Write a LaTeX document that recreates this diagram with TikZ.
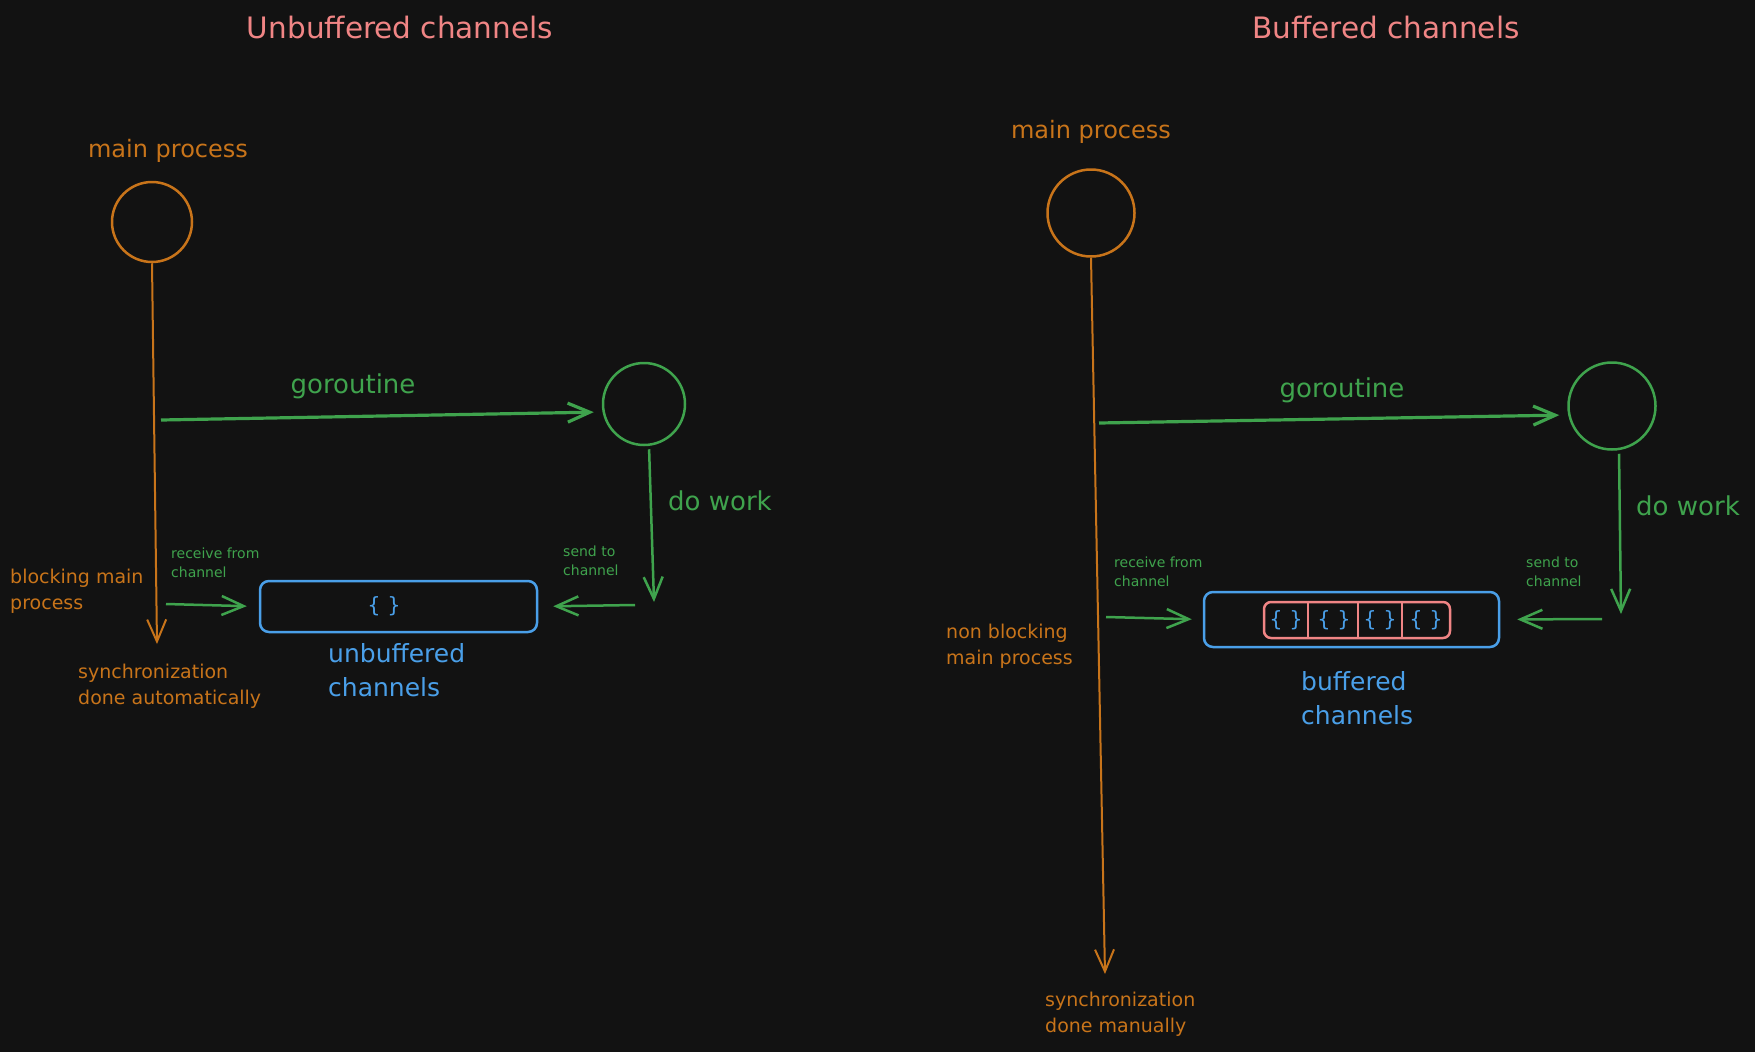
\documentclass[tikz,border=0pt]{standalone}
\usepackage{fontspec}
\setmainfont{DejaVu Sans}
\usetikzlibrary{arrows.meta}
\definecolor{bgdark}{HTML}{121212}
\definecolor{procorange}{HTML}{C8741A}
\definecolor{gogreen}{HTML}{3FA34D}
\definecolor{chanblue}{HTML}{4A9FE8}
\definecolor{titlered}{HTML}{F08585}
\begin{document}
\begin{tikzpicture}[x=1pt,y=-1pt,
  barb/.style={-{Straight Barb[length=22pt,width=19pt]}},
  proc/.style={circle,draw=procorange,line width=2.5pt,inner sep=0pt},
  gor/.style={circle,draw=gogreen,line width=2.5pt,inner sep=0pt},
  mainline/.style={procorange,line width=2pt,barb},
  goline/.style={gogreen,line width=3.2pt,barb},
  chline/.style={gogreen,line width=2.5pt,barb},
  chanbox/.style={draw=chanblue,line width=2.5pt,rounded corners=9pt,inner sep=0pt},
  titletext/.style={text=titlered,font=\fontsize{29.5}{34}\selectfont},
  bigtext/.style={font=\fontsize{26}{32}\selectfont},
  proctext/.style={text=procorange,font=\fontsize{19}{26}\selectfont,align=left,anchor=west,inner sep=0pt},
  smalltext/.style={text=gogreen,font=\fontsize{14}{19}\selectfont,align=left,anchor=west,inner sep=0pt},
  chantext/.style={text=chanblue,font=\fontsize{25}{34}\selectfont,align=left,anchor=west,inner sep=0pt},
  valtext/.style={text=chanblue,font=\fontsize{21}{24}\selectfont,inner sep=0pt}]
\fill[bgdark] (0,0) rectangle (1755,1052);

% unbuffered side
\node[titletext] (t1) at (400,28) {Unbuffered channels};
\node[bigtext,text=procorange,font=\fontsize{24}{30}\selectfont] (mp1) at (168,151) {main process};
\node[proc,minimum size=80pt] (m1) at (152,222) {};
\coordinate (m1end) at (157,644);
\draw[mainline] (m1.south) -- (m1end);

\node[gor,minimum size=82pt] (g1) at (644,404) {};
\coordinate (g1start) at (161,420);
\draw[goline,shorten >=8pt] (g1start) -- ([yshift=-8pt]g1.west);
\node[bigtext,text=gogreen] (gl1) at (353,386) {goroutine};
\coordinate (g1end) at (654,602);
\draw[chline,shorten <=3pt] ([xshift=5pt]g1.south) -- (g1end);
\node[bigtext,text=gogreen] (dw1) at (720,501) {do work};

\node[chanbox,minimum width=277pt,minimum height=51pt] (ch1) at (398.5,606.5) {};
\node[valtext] (v1) at (384,606) {\{ \}};
\node[chantext] (cl1) at (328,670) {unbuffered\\channels};

\node[smalltext] (rc1) at (171,563) {receive from\\channel};
\coordinate (rc1start) at (166,604);
\draw[chline,shorten >=12pt] (rc1start) -- (ch1.west);
\node[smalltext] (sd1) at (563,561) {send to\\channel};
\coordinate (sd1start) at (635,605);
\draw[chline,shorten >=15pt] (sd1start) -- (ch1.east);

\node[proctext] (bl1) at (10,591) {blocking main\\process};
\node[proctext] (sy1) at (78,686) {synchronization\\done automatically};

% buffered side
\node[titletext] (t2) at (1386,28) {Buffered channels};
\node[bigtext,text=procorange,font=\fontsize{24}{30}\selectfont] (mp2) at (1091,132) {main process};
\node[proc,minimum size=87pt] (m2) at (1091,213) {};
\coordinate (m2end) at (1105,974);
\draw[mainline] (m2.south) -- (m2end);

\node[gor,minimum size=87pt] (g2) at (1612,406) {};
\coordinate (g2start) at (1099,423);
\draw[goline,shorten >=8pt] (g2start) -- ([yshift=-9pt]g2.west);
\node[bigtext,text=gogreen] (gl2) at (1342,390) {goroutine};
\coordinate (g2end) at (1621,614);
\draw[chline,shorten <=3pt] ([xshift=7pt]g2.south) -- (g2end);
\node[bigtext,text=gogreen] (dw2) at (1688,506) {do work};

\node[chanbox,minimum width=295pt,minimum height=55pt] (ch2) at (1351.5,619.5) {};
\node[draw=titlered,line width=2.5pt,rounded corners=7pt,minimum width=186pt,minimum height=36pt,inner sep=0pt] (buf) at (1357,620) {};
\foreach \x in {1308,1358,1402}
  \draw[titlered,line width=2pt] (buf.north -| \x,0) -- (buf.south -| \x,0);
\foreach \i/\x in {1/1286,2/1334,3/1380,4/1426}
  \node[valtext] (val\i) at (\x,620) {\{ \}};
\node[chantext] (cl2) at (1301,698) {buffered\\channels};

\node[smalltext] (rc2) at (1114,572) {receive from\\channel};
\coordinate (rc2start) at (1106,617);
\draw[chline,shorten >=11pt] (rc2start) -- (ch2.west);
\node[smalltext] (sd2) at (1526,572) {send to\\channel};
\coordinate (sd2start) at (1602,619);
\draw[chline,shorten >=17pt] (sd2start) -- (ch2.east);

\node[proctext] (nb2) at (946,646) {non blocking\\main process};
\node[proctext] (sy2) at (1045,1014) {synchronization\\done manually};
\end{tikzpicture}
\end{document}
